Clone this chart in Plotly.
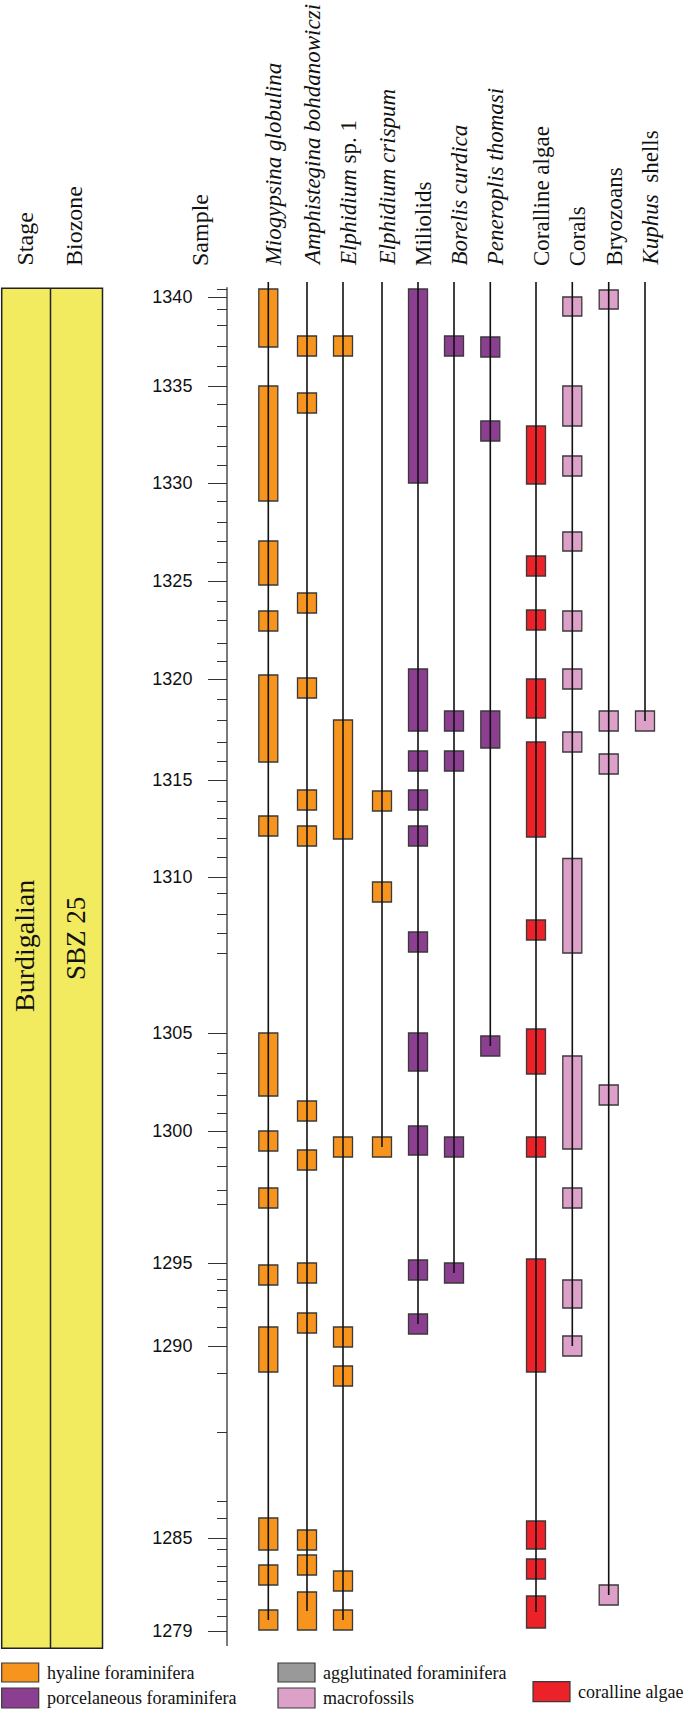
import plotly.graph_objects as go

# ---------------- data ----------------
sample_numbers = list(range(1341, 1278, -1))
sample_heights = [135.7, 134.9, 133.7, 132.1, 130.0, 128.0, 126.0, 124.2, 122.0, 120.0,
                  118.1, 116.3, 114.5, 112.4, 110.5, 108.4, 106.5, 104.5, 102.6, 100.3,
                  98.5, 96.7, 94.7, 92.6, 90.4, 88.5, 86.6, 84.5, 82.8, 80.8,
                  78.9, 76.9, 75.3, 73.2, 71.3, 69.3, 61.3, 59.3, 57.3, 55.1,
                  53.3, 51.5, 49.9, 48.0, 45.6, 44.2, 38.3, 36.7, 35.6, 33.9,
                  31.9, 30.0, 27.3, 21.4, 14.5, 12.8, 10.8, 9.7, 8.0, 6.5,
                  4.7, 3.0, 1.5]
labelled_samples = [1340, 1335, 1330, 1325, 1320, 1315, 1310, 1305, 1300, 1295, 1290, 1285, 1279]

taxa = ["<i>Miogypsina globulina</i>", "<i>Amphistegina bohdanowiczi</i>",
        "<i>Elphidium</i> sp. 1", "<i>Elphidium crispum</i>", "Miliolids",
        "<i>Borelis curdica</i>", "<i>Peneroplis thomasi</i>", "Coralline algae",
        "Corals", "Bryozoans", "<i>Kuphus</i>  shells"]
taxon_groups = ["hyaline", "hyaline", "hyaline", "hyaline", "porcelaneous",
                "porcelaneous", "porcelaneous", "coralline", "macro", "macro", "macro"]

# occurrence intervals (top, bottom) in stratigraphic height units
miogypsina = [(135.7, 129.9), (126.0, 114.5), (110.5, 106.1), (103.5, 101.5), (97.1, 88.4),
              (83.0, 81.0), (61.3, 55.0), (51.5, 49.5), (45.8, 43.8), (38.1, 36.1),
              (31.9, 27.4), (12.8, 9.6), (8.1, 6.1), (3.6, 1.6)]
amphistegina = [(131.0, 129.0), (125.3, 123.3), (105.3, 103.3), (96.8, 94.8), (85.6, 83.6),
                (82.0, 80.0), (54.5, 52.5), (49.6, 47.6), (38.3, 36.3), (33.3, 31.3),
                (11.6, 9.6), (9.1, 7.1), (5.4, 1.6)]
elphidium_sp1 = [(131.0, 129.0), (92.6, 80.7), (50.9, 48.9), (31.9, 29.9), (28.0, 26.0),
                 (7.5, 5.5), (3.6, 1.6)]
elphidium_crispum = [(85.5, 83.5), (76.4, 74.4), (50.9, 48.9)]
miliolids = [(135.7, 116.3), (97.7, 91.5), (89.5, 87.5), (85.6, 83.6), (82.0, 80.0),
             (71.4, 69.4), (61.3, 57.5), (52.0, 49.1), (38.6, 36.6), (33.2, 31.2)]
borelis = [(131.0, 129.0), (93.5, 91.5), (89.5, 87.5), (50.9, 48.9), (38.3, 36.3)]
peneroplis = [(130.9, 128.9), (122.5, 120.5), (93.5, 89.8), (61.0, 59.0)]
coralline_algae = [(122.0, 116.2), (109.0, 107.0), (103.6, 101.6), (96.7, 92.8), (90.4, 80.9),
                   (72.6, 70.6), (61.7, 57.2), (50.9, 48.9), (38.7, 27.4), (12.5, 9.7),
                   (8.7, 6.7), (5.0, 1.8)]
corals = [(134.9, 133.0), (126.0, 122.0), (119.0, 117.0), (111.4, 109.5), (103.5, 101.5),
          (97.7, 95.7), (91.4, 89.4), (78.75, 69.3), (59.0, 49.7), (45.8, 43.8),
          (36.6, 33.8), (31.0, 29.0)]
bryozoans = [(135.6, 133.7), (93.5, 91.5), (89.2, 87.2), (56.1, 54.1), (6.1, 4.1)]
kuphus = [(93.5, 91.5)]

occurrences = [miogypsina, amphistegina, elphidium_sp1, elphidium_crispum, miliolids,
               borelis, peneroplis, coralline_algae, corals, bryozoans, kuphus]

legend_labels = ["hyaline foraminifera", "porcelaneous foraminifera",
                 "agglutinated foraminifera", "macrofossils", "coralline algae"]
stage_name = "Burdigalian"
biozone_name = "SBZ 25"

# ---------------- styles / layout ----------------
W, H = 685, 1711
col_x = [268.3, 307, 343, 382, 418, 454, 490.3, 536, 572.3, 608.7, 645]
group_colors = {"hyaline": "#F7941E", "porcelaneous": "#8C3F90", "coralline": "#ED2128",
                "macro": "#DDA0C8", "agglutinated": "#999999"}
OUT = "#3a3a3a"
SERIF = "Liberation Serif, Times New Roman, serif"
SANS = "Liberation Sans, Arial, sans-serif"
LINE_TOP = 136.4
AXIS_X = 227
BOX_W = 19

fig = go.Figure()

# range lines
lx, ly = [], []
for cx, occ in zip(col_x, occurrences):
    low = min((t + b) / 2 for t, b in occ)
    lx += [cx, cx, None]
    ly += [LINE_TOP, low, None]
fig.add_trace(go.Scatter(x=lx, y=ly, mode="lines", line=dict(color="#111111", width=1.6),
                         hoverinfo="skip", showlegend=False))

# occurrence boxes, one trace per group
for grp in ["hyaline", "porcelaneous", "coralline", "macro"]:
    bx, bbase, blen = [], [], []
    for cx, occ, g in zip(col_x, occurrences, taxon_groups):
        if g != grp:
            continue
        for t, b in occ:
            bx.append(cx)
            bbase.append(b)
            blen.append(t - b)
    fig.add_trace(go.Bar(x=bx, y=blen, base=bbase, width=BOX_W,
                         marker=dict(color=group_colors[grp], line=dict(color=OUT, width=1.3)),
                         showlegend=False, hoverinfo="skip"))

shapes = []
# stage / biozone column
shapes.append(dict(type="rect", xref="x", yref="y", x0=1.7, x1=102.5, y0=-0.23, y1=135.77,
                   fillcolor="#F2EB5F", line=dict(color="#222222", width=1.5), layer="below"))
shapes.append(dict(type="line", xref="x", yref="y", x0=50.5, x1=50.5, y0=-0.23, y1=135.77,
                   line=dict(color="#222222", width=1.5)))
# sample axis line
shapes.append(dict(type="line", xref="x", yref="y", x0=AXIS_X, x1=AXIS_X, y0=0, y1=135.87,
                   line=dict(color="#333333", width=1.3)))

annotations = []
def rot_label(text, x, size=24):
    annotations.append(dict(text=text, x=x, y=137.8, xref="x", yref="y", textangle=-90,
                            xanchor="center", yanchor="bottom", showarrow=False,
                            font=dict(family=SERIF, size=size, color="#111111")))

rot_label("Stage", 24)
rot_label("Biozone", 74)
rot_label("Sample", 200)
for cx, t in zip(col_x, taxa):
    rot_label(t, cx + 5, 23)

annotations.append(dict(text=stage_name, x=24, y=70.0, xref="x", yref="y", textangle=-90,
                        showarrow=False, font=dict(family=SERIF, size=28, color="#111111")))
annotations.append(dict(text=biozone_name, x=76, y=70.7, xref="x", yref="y", textangle=-90,
                        showarrow=False, font=dict(family=SERIF, size=27, color="#111111")))

# legend (manual)
leg_items = [("hyaline", legend_labels[0], 1.7, -1.7, -3.6),
             ("porcelaneous", legend_labels[1], 1.7, -4.2, -6.2),
             ("agglutinated", legend_labels[2], 278, -1.7, -3.6),
             ("macro", legend_labels[3], 278, -4.2, -6.2),
             ("coralline", legend_labels[4], 533, -3.57, -5.57)]
for grp, lab, x0, yt, yb in leg_items:
    shapes.append(dict(type="rect", xref="x", yref="y", x0=x0, x1=x0 + 37, y0=yb, y1=yt,
                       fillcolor=group_colors[grp], line=dict(color=OUT, width=1.2)))
    annotations.append(dict(text=lab, x=x0 + 43, y=(yt + yb) / 2, xref="x", yref="y",
                            xanchor="left", yanchor="middle", showarrow=False,
                            font=dict(family=SERIF, size=18, color="#111111")))

height_of = dict(zip(sample_numbers, sample_heights))
major_vals = [height_of[s] for s in labelled_samples]
minor_vals = [height_of[s] for s in sample_numbers if s not in labelled_samples]

fig.update_layout(
    width=W, height=H, margin=dict(l=0, r=0, t=0, b=0),
    paper_bgcolor="white", plot_bgcolor="white", barmode="overlay",
    xaxis=dict(range=[0, W], visible=False, fixedrange=True),
    yaxis=dict(range=[-6.5, 164.6], anchor="free", position=AXIS_X / W, side="left",
               showline=False, showgrid=False, zeroline=False, fixedrange=True,
               tickmode="array", tickvals=major_vals,
               ticktext=[str(s) for s in labelled_samples],
               ticks="outside", ticklen=19, tickwidth=1.3, tickcolor="#333333",
               ticklabelstandoff=12,
               tickfont=dict(family=SANS, size=18, color="#111111"),
               minor=dict(tickmode="array", tickvals=minor_vals, ticks="outside",
                          ticklen=10, tickwidth=1.3, tickcolor="#333333", showgrid=False)),
    shapes=shapes, annotations=annotations, showlegend=False,
)

fig.write_html("out.html", config={"displayModeBar": False},
               post_script="document.body.style.margin='0';document.body.style.padding='0';")
